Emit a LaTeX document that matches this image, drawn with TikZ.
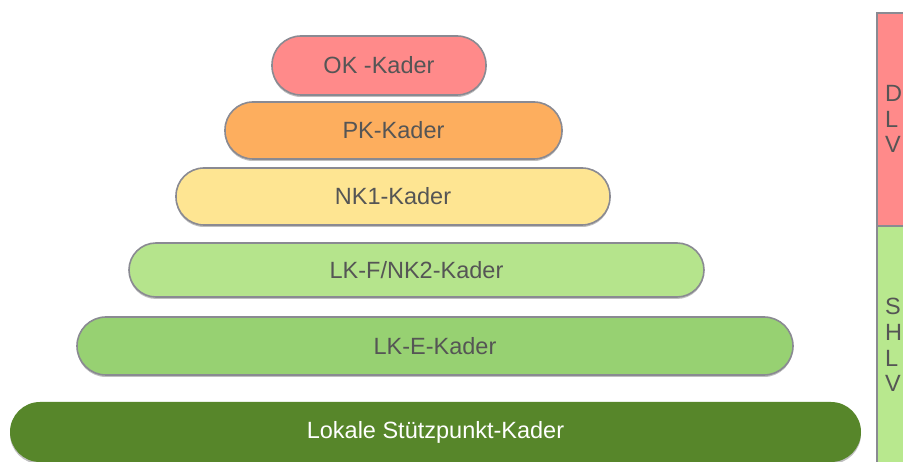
\documentclass[tikz,border=0pt]{standalone}
\usepackage{fontspec}
\setmainfont{Liberation Sans}
\usetikzlibrary{shadows}
\definecolor{okc}{HTML}{FF8A8A}
\definecolor{pkc}{HTML}{FDAE5E}
\definecolor{nkc}{HTML}{FEE592}
\definecolor{lkfc}{HTML}{B5E48C}
\definecolor{lkec}{HTML}{97D172}
\definecolor{lokc}{HTML}{57862A}
\definecolor{barg}{HTML}{B8E88E}
\definecolor{edgec}{HTML}{8A8A92}
\definecolor{txtc}{HTML}{555555}
\tikzset{
  pill/.style={draw=edgec, line width=1.6pt, rounded corners=28pt, minimum height=57pt,
    text=txtc, font=\fontsize{23.5}{26}\selectfont, inner sep=0pt,
    drop shadow={shadow xshift=0pt, shadow yshift=-2pt, opacity=0.25, fill=black}},
  barletters/.style={text=txtc, font=\fontsize{23.5}{25.6}\selectfont, align=left, anchor=west, inner sep=0pt}
}
\begin{document}
\begin{tikzpicture}[x=1pt,y=-1pt]
\useasboundingbox (0,0) rectangle (903,462);
\clip (0,0) rectangle (903,462);
\fill[white] (0,0) rectangle (903,462);
% side bars
\draw[draw=edgec, line width=1.6pt, fill=okc] (877,13) rectangle (910,226);
\draw[draw=edgec, line width=1.6pt, fill=barg] (877,226) rectangle (910,470);
\node[barletters] (dlv) at (885,119) {D\\L\\V};
\node[barletters] (shlv) at (885,345) {S\\H\\L\\V};
% pyramid
\node[pill, fill=okc, minimum width=214pt, minimum height=59pt, rounded corners=29pt] (ok) at (379,65.5) {OK -Kader};
\node[pill, fill=pkc, minimum width=337pt] (pk) at (393.5,130.5) {PK-Kader};
\node[pill, fill=nkc, minimum width=434pt] (nk1) at (393,196.5) {NK1-Kader};
\node[pill, fill=lkfc, minimum width=575pt, minimum height=54pt, rounded corners=27pt] (lkf) at (416.5,270) {LK-F/NK2-Kader};
\node[pill, fill=lkec, minimum width=716pt, minimum height=58pt, rounded corners=29pt] (lke) at (435,346) {LK-E-Kader};
\node[pill, draw=none, fill=lokc, text=white, minimum width=851pt, minimum height=60pt, rounded corners=30pt] (lok) at (435.5,432) {Lokale Stützpunkt-Kader};
\end{tikzpicture}
\end{document}
